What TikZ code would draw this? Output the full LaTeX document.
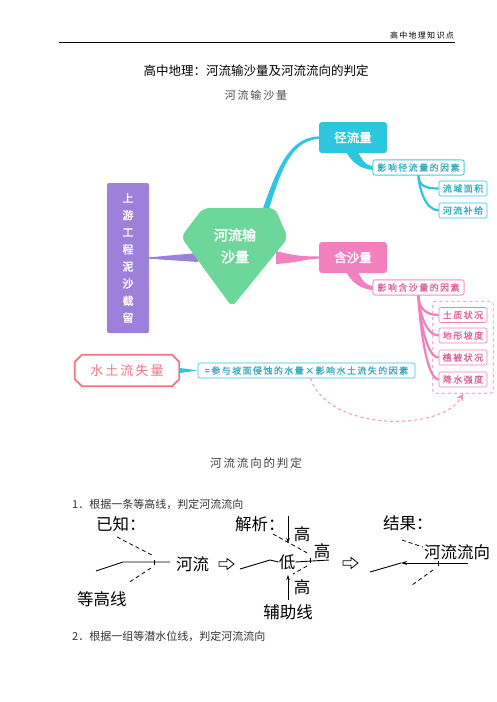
\documentclass[tikz,border=0pt]{standalone}
\usepackage{fontspec}
\setmainfont{Noto Sans CJK SC}
\newfontfamily\cjkspaced[LetterSpace=16]{Noto Sans CJK SC}
\newfontfamily\cjkspacedb[LetterSpace=16,FakeBold=0.8]{Noto Sans CJK SC}
\newfontfamily\cjkbold[FakeBold=2]{Noto Sans CJK SC}
\usetikzlibrary{arrows.meta,calc,fit}
\definecolor{mmpurple}{HTML}{9D80D9}
\definecolor{mmgreen}{HTML}{6DD79A}
\definecolor{mmcyan}{HTML}{2EC5DF}
\definecolor{mmpink}{HTML}{F27FBE}
\definecolor{mmred}{HTML}{F07484}
\definecolor{mmteal}{HTML}{36A9BC}
\definecolor{mmpinktext}{HTML}{D9609F}
\tikzset{
  lbl/.style={inner sep=0pt},
  mainbox/.style={rounded corners=3pt, minimum width=68pt, minimum height=31pt, inner sep=0pt,
    text=white, font=\fontsize{12.5}{13}\cjkbold},
  subbox/.style={draw, line width=0.6pt, rounded corners=2pt, fill=white, minimum height=15pt,
    inner sep=0pt, font=\fontsize{9}{10}\cjkspacedb},
  cyanbox/.style={subbox, draw=mmcyan, text=mmteal},
  pinkbox/.style={subbox, draw=mmpink, text=mmpinktext},
  childbox/.style={minimum width=48pt},
  diag/.style={inner sep=0pt, font=\fontsize{16.5}{17}\selectfont},
  ln/.style={line width=0.9pt},
  dsh/.style={line width=0.8pt, dash pattern=on 4pt off 3pt},
  tip/.style={-{Stealth[length=5pt,width=3.5pt]}},
}
\begin{document}
\begin{tikzpicture}[x=1pt,y=-1pt]
\useasboundingbox (0,0) rectangle (496,702);
\fill[white] (0,0) rectangle (496,702);

% header
\node[anchor=south east, lbl, font=\fontsize{8}{8}\cjkspaced] (hdr) at (454,39) {高中地理知识点};
\draw[line width=0.8pt] (59,42) -- (455,42);
\node[lbl, font=\fontsize{12.5}{13}\selectfont] (title) at (256,71) {高中地理：河流输沙量及河流流向的判定};
\node[lbl, font=\fontsize{11}{12}\cjkspaced, text=black!70] (sub1) at (256,95) {河流输沙量};

% ---------------- mind map ----------------
\node[fill=mmpurple, rounded corners=2pt, minimum width=42pt, minimum height=150pt, inner sep=0pt,
      align=center, text=white, font=\fontsize{11}{17.1}\cjkbold] (up) at (128,258)
      {上\\游\\工\\程\\泥\\沙\\截\\留};

\node[mainbox, fill=mmcyan] (jl) at (353,137.5) {径流量};
\node[mainbox, fill=mmpink] (hs) at (353,257.5) {含沙量};

\node[cyanbox, minimum width=91pt] (jlf) at (418.5,167.5) {影响径流量的因素};
\node[cyanbox, childbox] (c1) at (463,188.5) {流域面积};
\node[cyanbox, childbox] (c2) at (463,210.5) {河流补给};

\node[pinkbox, minimum width=91pt] (hsf) at (418.5,287.5) {影响含沙量的因素};
\node[pinkbox, childbox] (p1) at (463,315) {土质状况};
\node[pinkbox, childbox] (p2) at (463,335.5) {地形坡度};
\node[pinkbox, childbox] (p3) at (463,357.5) {植被状况};
\node[pinkbox, childbox] (p4) at (463,379.5) {降水强度};
\node[fit=(p1)(p4), inner sep=6pt, draw=mmpink, dashed, line width=0.7pt, rounded corners=3pt] (grp) {};

% connectors to hub (drawn beneath the hub)
\fill[mmpurple] ($(up.east)+(0,-0.7)$) -- (198,253) -- (198,262) -- ($(up.east)+(0,0.7)$) -- cycle;
\fill[mmcyan] (261,214) .. controls (277,168) and (289,137) .. ($(jl.west)+(1,-1.2)$)
   -- ($(jl.west)+(1,1.2)$) .. controls (292,140) and (281,168) .. (267,216) -- cycle;
\fill[mmpink] (276,251) .. controls (295,256) and (305,256.5) .. ($(hs.west)+(1,-1)$)
   -- ($(hs.west)+(1,1)$) .. controls (305,259) and (295,263) .. (276,264) -- cycle;

% hub
\fill[mmgreen, rounded corners=6pt] (203,208) -- (275,208) -- (288,238) -- (232,307) -- (181,237) -- cycle;
\node[lbl, align=center, text=white, font=\fontsize{14}{22}\cjkbold] (hub) at (235,246) {河流输\\沙量};

% callout tails
\fill[mmcyan] (346,152) .. controls (352,162) and (360,169) .. ($(jlf.west)+(0,2.5)$)
   -- ($(jlf.west)+(0,-1.5)$) .. controls (364,165) and (361,158) .. (358,152) -- cycle;
\fill[mmpink] (346,272) .. controls (352,282) and (360,289) .. ($(hsf.west)+(0,2.5)$)
   -- ($(hsf.west)+(0,-1.5)$) .. controls (364,285) and (361,278) .. (358,272) -- cycle;

% child connectors
\foreach \c in {c1,c2}
  \draw[mmcyan, line width=2.2pt] (jlf.south) .. controls ($(jlf.south)+(0,10)$) and ($(\c.west)+(-14,0)$) .. (\c.west);
\foreach \c in {p1,p2,p3,p4}
  \draw[mmpink, line width=2.2pt] (hsf.south) .. controls ($(hsf.south)+(0,12)$) and ($(\c.west)+(-14,0)$) .. (\c.west);
\node[cyanbox, minimum width=91pt] at (jlf) {影响径流量的因素};
\node[pinkbox, minimum width=91pt] at (hsf) {影响含沙量的因素};

% soil loss
\node[lbl, minimum width=104pt, minimum height=31pt, text=mmred, font=\fontsize{13}{14}\cjkspaced] (wt) at (127,370.5) {水土流失量};
\draw[mmred, line width=1.8pt]
  ($(wt.north west)+(7,0)$) -- ($(wt.north east)+(-7,0)$) -- ($(wt.north east)+(0,7)$)
  -- ($(wt.south east)+(0,-7)$) -- ($(wt.south east)+(-7,0)$) -- ($(wt.south west)+(7,0)$)
  -- ($(wt.south west)+(0,-7)$) -- ($(wt.north west)+(0,7)$) -- cycle;
\node[cyanbox, minimum width=217pt] (sl) at (306.5,370.5) {=参与坡面侵蚀的水量×影响水土流失的因素};
\fill[mmcyan] ($(wt.east)+(1,-2.5)$) -- (sl.west) -- ($(wt.east)+(1,2.5)$) -- cycle;
\draw[mmpink!85, dashed, line width=1pt, -{Stealth[length=7pt,width=7pt]}]
  ($(sl.south)+(4,0)$) .. controls (328,432) and (442,432) .. (grp.south);

% ---------------- river direction ----------------
\node[lbl, font=\fontsize{11.5}{12}\cjkspaced, text=black!75] (sub2) at (256,463) {河流流向的判定};
\node[lbl, anchor=west, font=\fontsize{11}{12}\selectfont, text=black!80] (s1) at (72,504) {1．根据一条等高线，判定河流流向};
\node[lbl, anchor=west, font=\fontsize{11}{12}\selectfont, text=black!80] (s2) at (72,636) {2．根据一组等潜水位线，判定河流流向};

% known
\node[diag, anchor=west] (known) at (96,524) {已知：};
\node[diag, anchor=west] (river) at (176,564) {河流};
\node[diag, anchor=west] (contour) at (77,599) {等高线};
\coordinate (a1) at (96,571); \coordinate (a2) at (123,562); \coordinate (a3) at (170,562);
\draw[ln] (a1) -- (a2) -- (a3);
\draw[line width=0.6pt] (154,559.5) -- (154,564.5);
\draw[dsh] (117,537) -- (152,555);
\draw[dsh] (151,568) -- (128,583);

% hollow arrows
\foreach \ax/\ay [count=\i] in {219/564, 343/563}
  \draw[line width=0.8pt] (\ax,\ay-2.3) -- (\ax+8,\ay-2.3) -- (\ax+8,\ay-5.5) -- (\ax+15,\ay)
     -- (\ax+8,\ay+5.5) -- (\ax+8,\ay+2.3) -- (\ax,\ay+2.3) -- cycle;

% analysis
\node[diag, anchor=west] (ana) at (235,524) {解析：};
\node[diag] (g1) at (302,534) {高};
\node[diag] (g2) at (322,551) {高};
\node[diag] (low) at (287,562) {低};
\node[diag] (g3) at (302,587) {高};
\node[diag] (aux) at (288,612) {辅助线};
\coordinate (v1) at (288,516); \coordinate (v2) at (288,543);
\coordinate (v3) at (288,600); \coordinate (v4) at (288,575);
\draw[line width=0.8pt, tip] (v1) -- (v2);
\draw[line width=0.8pt, tip] (v3) -- (v4);
\draw[ln] (240,569) -- (270,560) -- (low.west);
\draw[ln] (low.east) -- (329,560);
\draw[line width=0.6pt] (310,557.5) -- (310,562.5);
\draw[dsh] (273,534) -- (309,554);
\draw[dsh] (307,566) -- (293,574);

% result
\node[diag, anchor=west] (res) at (383,523) {结果：};
\node[diag, anchor=west] (dir) at (424,552) {河流流向};
\coordinate (r1) at (468,563); \coordinate (r2) at (401,563); \coordinate (r3) at (370,572);
\draw[ln, -{Stealth[length=6pt,width=4pt]}] (r1) -- (r2);
\draw[ln] (r2) -- (r3);
\draw[line width=0.6pt] (438,560.5) -- (438,565.5);
\draw[dsh] (402,540) -- (423,547);
\draw[dsh] (433,570) -- (412,585);
\end{tikzpicture}
\end{document}
